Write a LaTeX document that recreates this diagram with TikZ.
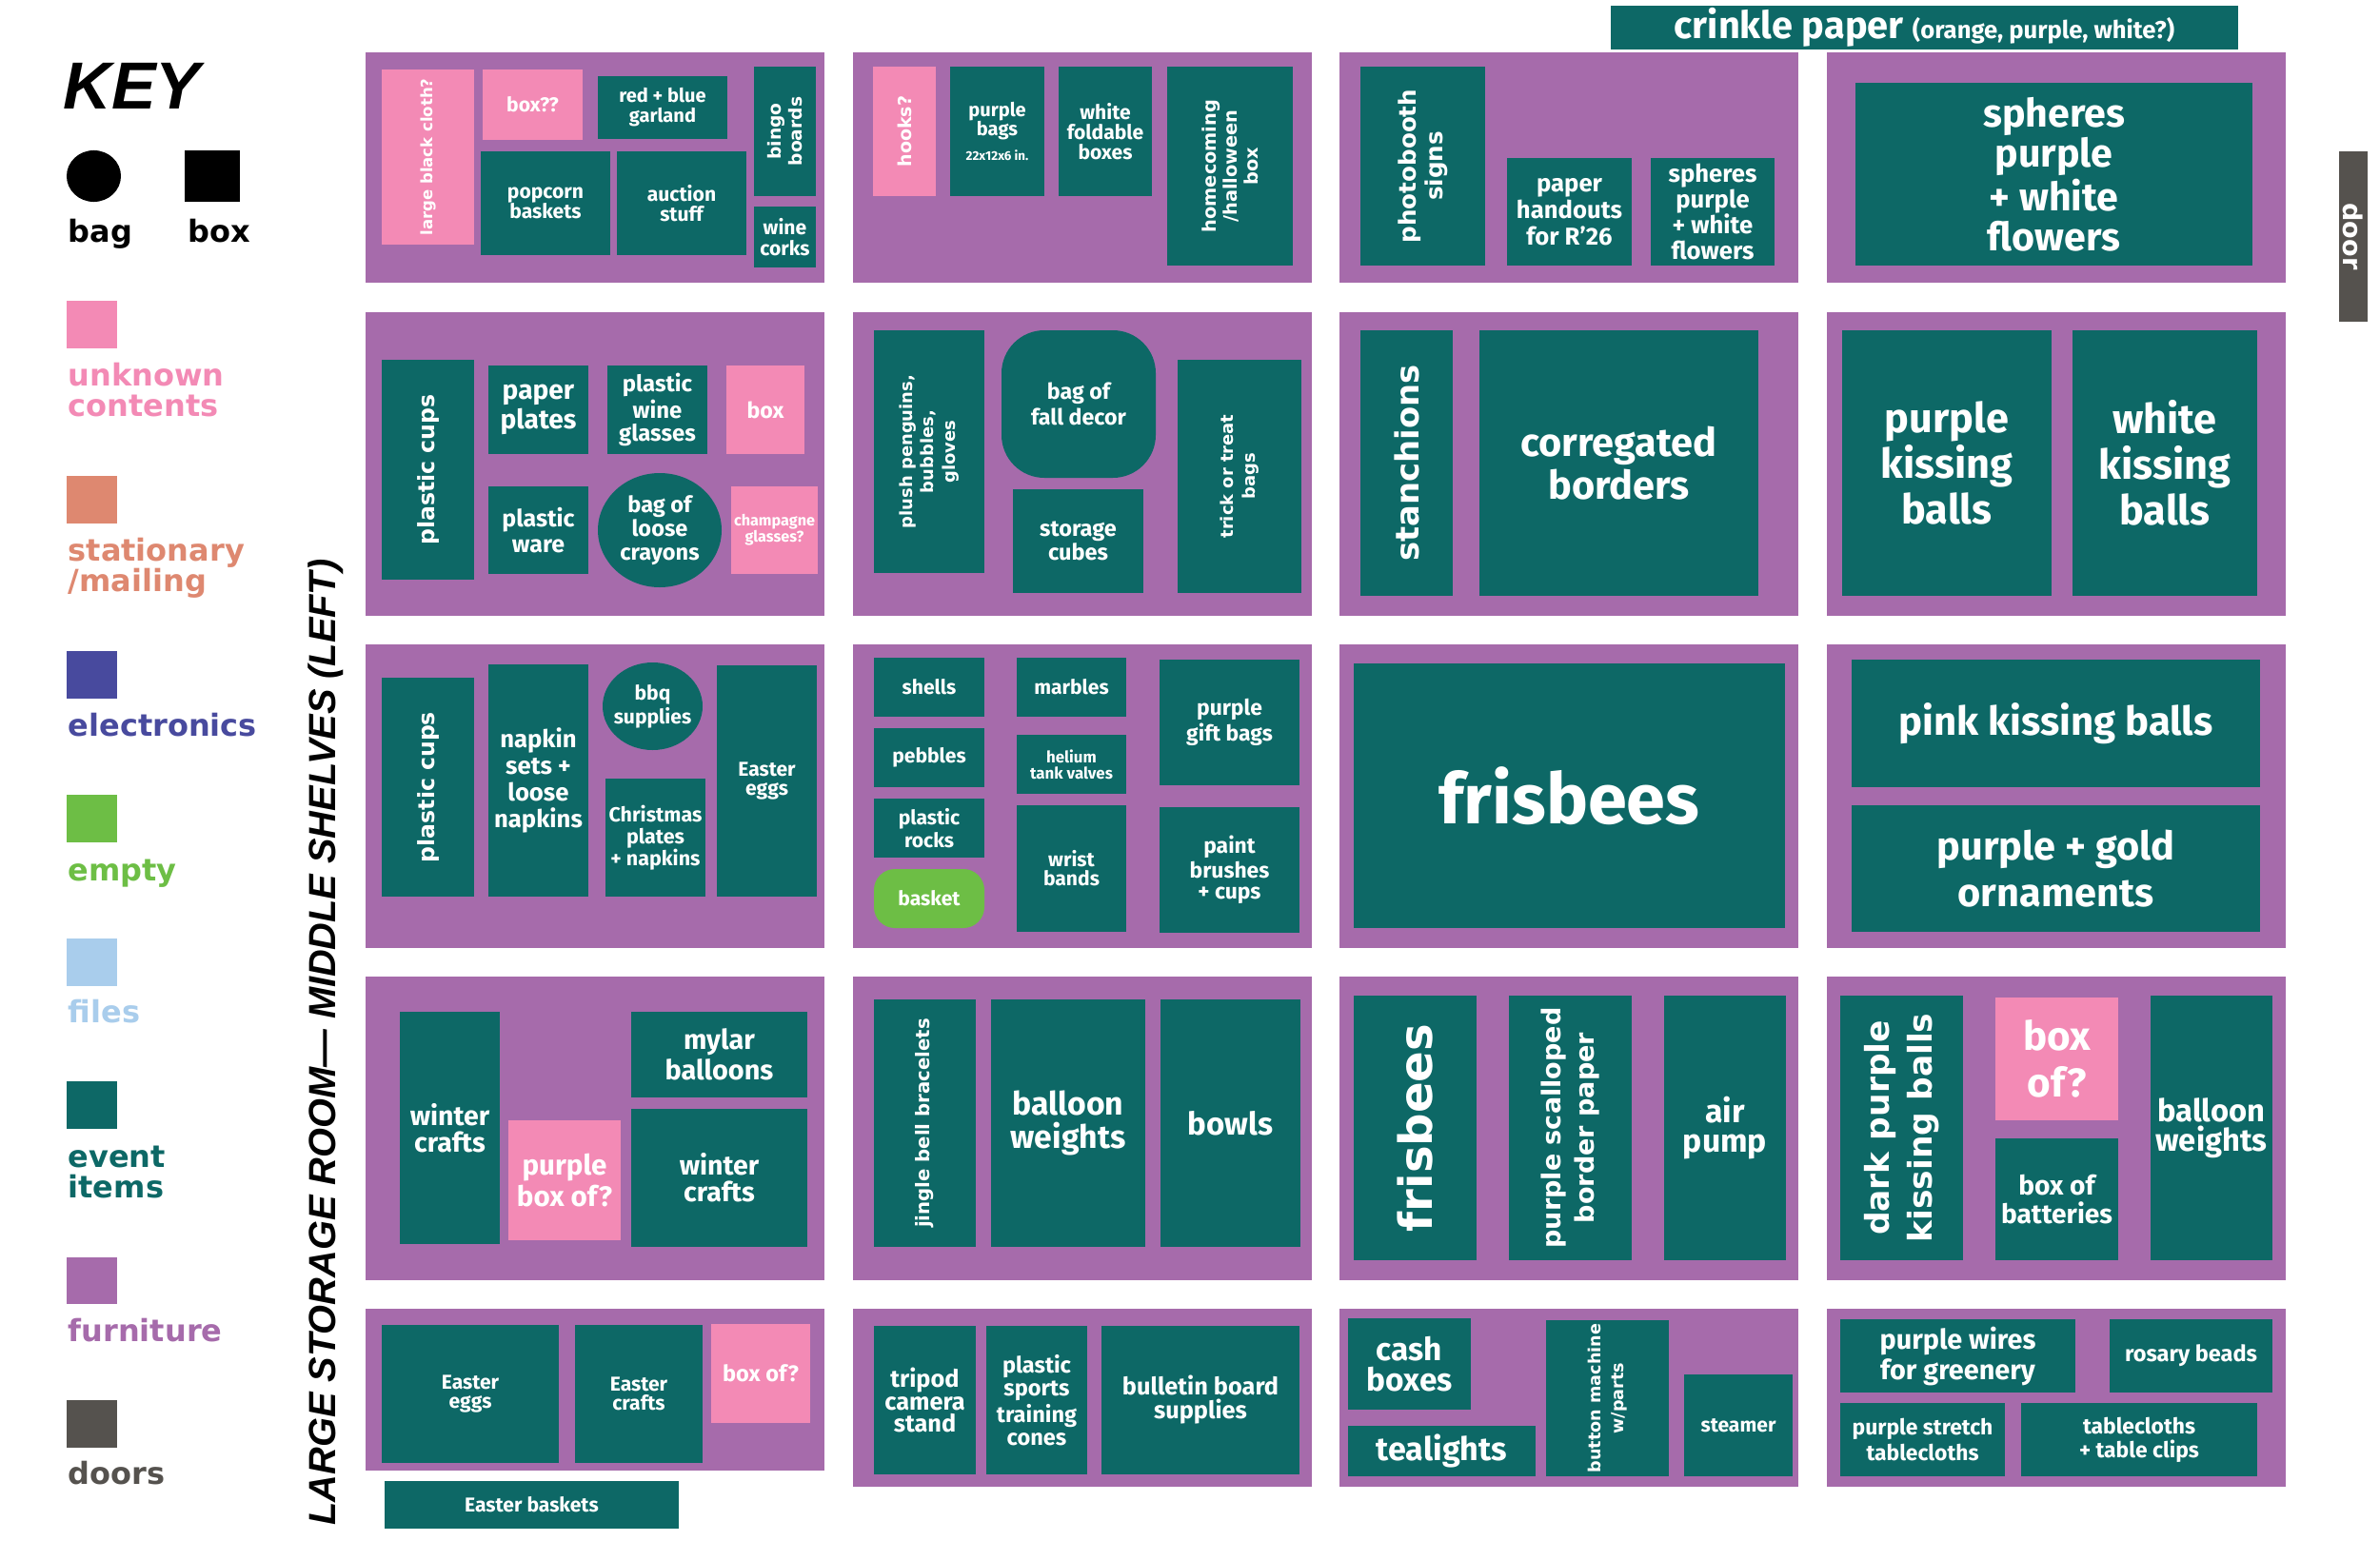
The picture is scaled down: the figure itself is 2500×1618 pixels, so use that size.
\documentclass[tikz,border=0pt]{standalone}
\usepackage{fontspec}
\setmainfont{Fira Sans}
\newfontfamily\widefont{DejaVu Sans}
\newfontfamily\titlefont{Liberation Sans}
\usetikzlibrary{shapes.geometric}

\definecolor{evt}{HTML}{0D6866}
\definecolor{furn}{HTML}{A66BAB}
\definecolor{unkn}{HTML}{F38AB5}
\definecolor{stat}{HTML}{DE8870}
\definecolor{elec}{HTML}{484A9E}
\definecolor{empt}{HTML}{6DBE45}
\definecolor{fil}{HTML}{A9CDEC}
\definecolor{dor}{HTML}{55524E}

\newcommand\fsz[2]{\fontsize{#1}{#2}\selectfont}

\begin{document}
\begin{tikzpicture}[x=0.01cm, y=-0.01cm,
    shelf/.style={fill=furn},
    ev/.style={fill=evt},
    unk/.style={fill=unkn},
    spot/.style args={#1/#2/#3/#4}{at={({(#1+#3)/2},{(#2+#4)/2})},
        minimum width={(#3-#1)*0.01cm}, minimum height={(#4-#2)*0.01cm}},
    vspot/.style args={#1/#2/#3/#4}{at={({(#1+#3)/2},{(#2+#4)/2})},
        minimum width={(#4-#2)*0.01cm}, minimum height={(#3-#1)*0.01cm}},
    lbl/.style args={#1/#2}{text=white, align=center, inner sep=0pt,
        font=\bfseries\fsz{#1}{#2}},
    vlbl/.style args={#1/#2}{text=white, align=center, inner sep=0pt, rotate=90,
        font=\widefont\bfseries\fsz{#1}{#2}},
    keytxt/.style={anchor=base west, inner sep=0pt, align=left,
        font=\widefont\bfseries\fsz{9.1}{9.1}},
    swatch/.style={inner sep=0pt}]
    \fill[white] (0,0) rectangle (2500,1618);
    \useasboundingbox (0,0) rectangle (2500,1618);

    % 1. Key (base = last line)
    \node[anchor=base west, inner sep=0pt, font=\titlefont\bfseries\itshape\fsz{19.9}{20}] (key) at (66,114) {KEY};
    \node[ellipse, fill=black, inner sep=0pt, minimum width=0.57cm, minimum height=0.54cm] (bagsym) at (98.5,185) {};
    \node[swatch, fill=black, spot=194/158/252/212] (boxsym) {};
    \node[keytxt] (bag) at (71,254) {bag};
    \node[keytxt] (box) at (197,254) {box};
    \node[swatch, fill=unkn, spot=70/316/123/366] (swunk) {};
    \node[keytxt, text=unkn] (unknown) at (71,437) {unknown\\contents};
    \node[swatch, fill=stat, spot=70/500/123/550] (swstat) {};
    \node[keytxt, text=stat] (stationary) at (71,621) {stationary\\/mailing};
    \node[swatch, fill=elec, spot=70/684/123/734] (swelec) {};
    \node[keytxt, text=elec] (electronics) at (71,773) {electronics};
    \node[swatch, fill=empt, spot=70/835/123/885] (swempt) {};
    \node[keytxt, text=empt] (empty) at (71,925) {empty};
    \node[swatch, fill=fil, spot=70/986/123/1036] (swfil) {};
    \node[keytxt, text=fil] (files) at (71,1074) {files};
    \node[swatch, fill=evt, spot=70/1136/123/1186] (swevt) {};
    \node[keytxt, text=evt] (event) at (71,1258) {event\\items};
    \node[swatch, fill=furn, spot=70/1321/123/1370] (swfurn) {};
    \node[keytxt, text=furn] (furniture) at (71,1409) {furniture};
    \node[swatch, fill=dor, spot=70/1471/123/1521] (swdor) {};
    \node[keytxt, text=dor] (doors) at (71,1559) {doors};

    \node[rotate=90, anchor=base west, inner sep=0pt, font=\titlefont\bfseries\itshape\fsz{11.3}{12}] (title) at (352,1603) {LARGE STORAGE ROOM— MIDDLE SHELVES (LEFT)};

    % 2. Shelves
    \foreach \x in {384,896,1407,1919}
        \foreach \y/\yy in {55/297,328/647,677/996,1026/1345}
            \fill[shelf] (\x,\y) rectangle (\x+482,\yy);
    \fill[shelf] (384,1375) rectangle (866,1545);
    \foreach \x in {896,1407,1919}
        \fill[shelf] (\x,1375) rectangle (\x+482,1562);

    \node[ev, spot=1692/6/2351/52, lbl=11.3/11.5] (crinkle) {crinkle paper {\fsz{7.3}{7.3}(orange, purple, white?)}};
    \node[fill=dor, text=white, inner sep=0pt, rotate=-90, font=\widefont\bfseries\fsz{7.7}{7.7},
        at={(2472,248.5)}, minimum width=1.79cm, minimum height=0.3cm] (door) {door};

    % 3. Row 1
    \node[unk, vspot=401/73/498/257, vlbl=4.7/5] (cloth) {large black cloth?};
    \node[unk, spot=507/73/612/147, lbl=6/6] (boxq) {box??};
    \node[ev, spot=628/80/764/146, lbl=5.7/6] (garland) {red + blue\\garland};
    \node[ev, vspot=792/70/857/206, vlbl=5.3/6] (bingo) {bingo\\boards};
    \node[ev, spot=505/159/641/268, lbl=6/6] (popcorn) {popcorn\\baskets};
    \node[ev, spot=648/159/784/268, lbl=6/6] (auction) {auction\\stuff};
    \node[ev, spot=792/217/857/281, lbl=6/6.2] (corks) {wine\\corks};
    \node[unk, vspot=917/70/983/206, vlbl=5.4/6] (hooks) {hooks?};
    \node[ev, spot=998/70/1097/206, lbl=5.7/5.8] (pbags) {purple\\bags\\[1.5pt]{\fsz{3.8}{4}22x12x6 in.}};
    \node[ev, spot=1112/70/1210/206, lbl=6/6] (folding) {white\\foldable\\boxes};
    \node[ev, vspot=1226/70/1358/279, vlbl=5.5/6.2] (homecoming) {homecoming\\/halloween\\box};
    \node[ev, vspot=1429/70/1560/279, vlbl=7/8] (photobooth) {photobooth\\signs};
    \node[ev, spot=1583/166/1714/279, lbl=7.3/8] (handouts) {paper\\handouts\\for R'26};
    \node[ev, spot=1734/166/1864/279, lbl=7.3/7.7] (spheresA) {spheres\\purple\\+ white\\flowers};
    \node[ev, spot=1949/87/2366/279, lbl=11.7/12] (spheresB) {spheres\\purple\\+ white\\flowers};

    % 4. Row 2
    \node[ev, vspot=401/378/498/609, vlbl=6.7/7] (cupsA) {plastic cups};
    \node[ev, spot=513/384/618/477, lbl=8/7.7] (plates) {paper\\plates};
    \node[ev, spot=638/384/743/477, lbl=6.8/6.8] (wineglasses) {plastic\\wine\\glasses};
    \node[unk, spot=763/384/845/477, lbl=6.6/7] (boxB) {box};
    \node[ev, spot=513/511/618/603, lbl=7.1/7.7] (ware) {plastic\\ware};
    \node[ev, ellipse, spot=628/497/758/617] (crayonbag) {};
    \node[lbl=6.7/7.1] (crayons) at (crayonbag) {bag of\\loose\\crayons};
    \node[unk, spot=768/511/859/603, lbl=4.6/4.8] (champagne) {champagne\\glasses?};
    \node[ev, vspot=918/347/1034/602, vlbl=5.1/6.5] (plush) {plush penguins,\\bubbles,\\gloves};
    \node[ev, rounded corners=0.45cm, spot=1052/347/1214/502, lbl=6.6/7.7] (falldecor) {bag of\\fall decor};
    \node[ev, spot=1064/514/1201/623, lbl=6.7/7.1] (cubes) {storage\\cubes};
    \node[ev, vspot=1237/378/1367/623, vlbl=5.1/6.5] (trick) {trick or treat\\bags};
    \node[ev, vspot=1429/347/1526/626, vlbl=9.6/10] (stanchions) {stanchions};
    \node[ev, spot=1554/347/1847/626, lbl=11.8/12.8] (borders) {corregated\\borders};
    \node[ev, spot=1935/347/2155/626, lbl=12.3/13.7] (purpleballs) {purple\\kissing\\balls};
    \node[ev, spot=2177/347/2371/626, lbl=12.3/13.7] (whiteballs) {white\\kissing\\balls};

    % 5. Row 3
    \node[ev, vspot=401/712/498/942, vlbl=6.7/7] (cupsB) {plastic cups};
    \node[ev, spot=513/698/618/942, lbl=7.3/8] (napkins) {napkin\\sets +\\loose\\napkins};
    \node[ev, ellipse, spot=633/696/738/788] (bbqbag) {};
    \node[lbl=6/7.1] (bbq) at (bbqbag) {bbq\\supplies};
    \node[ev, spot=636/818/741/942, lbl=6.1/6.5] (xmas) {Christmas\\plates\\+ napkins};
    \node[ev, spot=753/699/858/942, lbl=6/5.8] (eggsA) {Easter\\eggs};
    \node[ev, spot=918/691/1034/753, lbl=6/6] (shells) {shells};
    \node[ev, spot=918/765/1034/827, lbl=6/6] (pebbles) {pebbles};
    \node[ev, spot=918/839/1034/901, lbl=6/5.7] (rocks) {plastic\\rocks};
    \node[fill=empt, rounded corners=0.22cm, spot=918/913/1034/975, lbl=6/6] (basket) {basket};
    \node[ev, spot=1068/691/1183/753, lbl=6/6] (marbles) {marbles};
    \node[ev, spot=1068/772/1183/834, lbl=4.8/4.8] (helium) {helium\\tank valves};
    \node[ev, spot=1068/846/1183/979, lbl=6/5.7] (wrist) {wrist\\bands};
    \node[ev, spot=1218/693/1365/825, lbl=6.5/6.5] (giftbags) {purple\\gift bags};
    \node[ev, spot=1218/848/1365/980, lbl=6.5/6.3] (brushes) {paint\\brushes\\+ cups};
    \node[ev, spot=1422/697/1875/975, lbl=21/21] (frisbeesA) {frisbees};
    \node[ev, spot=1945/693/2374/827, lbl=11.9/12] (pinkballs) {pink kissing balls};
    \node[ev, spot=1945/846/2374/979, lbl=11.8/14] (ornaments) {purple + gold\\ornaments};

    % 6. Row 4
    \node[ev, spot=420/1063/525/1307, lbl=8.1/8] (winterA) {winter\\crafts};
    \node[unk, spot=534/1177/652/1303, lbl=8.4/8] (purplebox) {purple\\box of?};
    \node[ev, spot=663/1063/848/1153, lbl=8.2/8] (mylar) {mylar\\balloons};
    \node[ev, spot=663/1165/848/1310, lbl=8.1/8] (winterB) {winter\\crafts};
    \node[ev, vspot=918/1050/1025/1310, vlbl=5.6/6] (jingle) {jingle bell bracelets};
    \node[ev, spot=1041/1050/1203/1310, lbl=9.6/10] (weightsA) {balloon\\weights};
    \node[ev, spot=1219/1050/1366/1310, lbl=9.4/10] (bowls) {bowls};
    \node[ev, vspot=1422/1046/1551/1324, vlbl=13.7/14] (frisbeesB) {frisbees};
    \node[ev, vspot=1585/1046/1714/1324, vlbl=7.7/9.7] (scalloped) {purple scalloped\\border paper};
    \node[ev, spot=1748/1046/1876/1324, lbl=9.6/9] (airpump) {air\\pump};
    \node[ev, vspot=1933/1046/2062/1324, vlbl=9.8/13] (darkballs) {dark purple\\kissing balls};
    \node[unk, spot=2096/1048/2225/1177, lbl=12/13.8] (boxofA) {box\\of?};
    \node[ev, spot=2096/1196/2225/1324, lbl=8/8.3] (batteries) {box of\\batteries};
    \node[ev, spot=2259/1046/2387/1324, lbl=9.3/8.8] (weightsB) {balloon\\weights};

    % 7. Row 5
    \node[ev, spot=401/1392/587/1537, lbl=6/5.8] (eggsB) {Easter\\eggs};
    \node[ev, spot=604/1392/738/1537, lbl=6/5.8] (eastercrafts) {Easter\\crafts};
    \node[unk, spot=747/1391/851/1495, lbl=6.7/7] (boxofB) {box of?};
    \node[ev, spot=404/1556/713/1606, lbl=6/6] (baskets) {Easter baskets};
    \node[ev, spot=918/1393/1025/1549, lbl=7.2/6.8] (tripod) {tripod\\camera\\stand};
    \node[ev, spot=1036/1393/1142/1549, lbl=6.7/6.8] (cones) {plastic\\sports\\training\\cones};
    \node[ev, spot=1157/1393/1365/1549, lbl=7.2/7.1] (bulletin) {bulletin board\\supplies};
    \node[ev, spot=1416/1385/1545/1481, lbl=9.5/9.1] (cash) {cash\\boxes};
    \node[ev, spot=1416/1498/1613/1551, lbl=9.7/9.7] (tealights) {tealights};
    \node[ev, vspot=1624/1387/1753/1551, vlbl=5/7] (button) {button machine\\w/parts};
    \node[ev, spot=1769/1444/1883/1551, lbl=6/6] (steamer) {steamer};
    \node[ev, spot=1933/1386/2180/1463, lbl=8.2/9.1] (wires) {purple wires\\for greenery};
    \node[ev, spot=2216/1386/2387/1463, lbl=6.7/7] (rosary) {rosary beads};
    \node[ev, spot=1933/1474/2106/1551, lbl=6.5/7.5] (stretch) {purple stretch\\tablecloths};
    \node[ev, spot=2123/1474/2371/1551, lbl=6.5/7.1] (clips) {tablecloths\\+ table clips};
\end{tikzpicture}
\end{document}
